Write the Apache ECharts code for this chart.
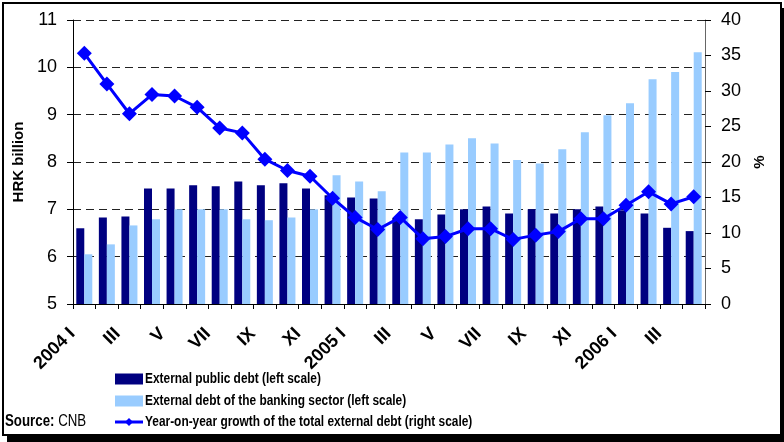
<!DOCTYPE html>
<html>
<head>
<meta charset="utf-8">
<script src="https://cdn.jsdelivr.net/npm/echarts@6/dist/echarts.min.js"></script>
<style>
  html, body { margin: 0; padding: 0; background: #fff; }
  #wrap { position: relative; width: 784px; height: 442px; overflow: hidden; }
  #frame { position: absolute; left: 2px; top: 2px; width: 776px; height: 430px;
           border: 2px solid #000; background: #fff; box-shadow: 5px 6px 0 #000; }
  #chart { position: absolute; left: 0; top: 0; width: 784px; height: 442px; }
</style>
</head>
<body>
<div id="wrap">
  <div id="frame"></div>
  <div id="chart"></div>
</div>
<script>
// Months, January 2004 to April 2006
const months = ['2004 I','II','III','IV','V','VI','VII','VIII','IX','X','XI','XII',
                '2005 I','II','III','IV','V','VI','VII','VIII','IX','X','XI','XII',
                '2006 I','II','III','IV'];

// HRK billion (left scale)
const publicDebt = [6.60, 6.83, 6.85, 7.44, 7.44, 7.51, 7.49, 7.59, 7.51, 7.55, 7.44, 7.30,
                    7.25, 7.23, 6.82, 6.79, 6.89, 7.00, 7.06, 6.91, 7.00, 6.91, 7.00, 7.06,
                    6.98, 6.91, 6.61, 6.54];
const bankingDebt = [6.05, 6.26, 6.66, 6.79, 7.00, 7.00, 7.00, 6.79, 6.77, 6.83, 7.00, 7.72,
                     7.59, 7.38, 8.20, 8.20, 8.37, 8.50, 8.39, 8.04, 7.97, 8.27, 8.63, 8.99,
                     9.24, 9.75, 9.90, 10.32];
// % (right scale)
const growth = [35.3, 31.0, 26.8, 29.5, 29.3, 27.7, 24.8, 24.1, 20.4, 18.8, 18.0, 14.9,
                12.2, 10.5, 12.2, 9.2, 9.5, 10.6, 10.6, 9.1, 9.7, 10.2, 12.0, 12.0,
                13.9, 15.8, 14.1, 15.1];

const seriesNames = ['External public debt (left scale)',
                     'External debt of the banking sector (left scale)',
                     'Year-on-year growth of the total external debt (right scale)'];
const colors = ['#000080', '#99CCFF', '#0000FF'];

const sans = '"Liberation Sans", Arial, sans-serif';

// Condensed legend block under the plot
function legendRow(i, y) {
  const items = [];
  if (i < 2) {
    items.push({ type: 'rect', shape: { x: 115, y: y - 5.5, width: 28, height: 11 },
                 style: { fill: colors[i] } });
  } else {
    items.push({ type: 'line', shape: { x1: 115, y1: y, x2: 143, y2: y },
                 style: { stroke: colors[i], lineWidth: 3 } });
    items.push({ type: 'polygon', shape: { points: [[129, y - 4], [133, y], [129, y + 4], [125, y]] },
                 style: { fill: colors[i] } });
  }
  items.push({ type: 'text', x: 145, y: y, scaleX: 0.85,
               style: { text: seriesNames[i], font: 'bold 14px ' + sans, fill: '#000',
                        verticalAlign: 'middle', align: 'left' } });
  return items;
}

const chart = echarts.init(document.getElementById('chart'), null, { renderer: 'canvas' });
chart.setOption({
  backgroundColor: 'transparent',
  animation: false,
  grid: { left: 73, right: 79, top: 20, bottom: 138 },
  graphic: [].concat(
    legendRow(0, 379), legendRow(1, 401), legendRow(2, 422),
    [{ type: 'text', x: 5, y: 422, scaleX: 0.83,
       style: { rich: {
           b: { fontFamily: sans, fontWeight: 'bold', fontSize: 16, fill: '#000' },
           n: { fontFamily: sans, fontSize: 16, fill: '#000' } },
         text: '{b|Source: }{n|CNB}', verticalAlign: 'middle' } }]
  ),
  xAxis: {
    type: 'category',
    data: months,
    boundaryGap: true,
    axisLine: { lineStyle: { color: '#000', width: 1 } },
    axisTick: { show: true, interval: 0, length: 5, lineStyle: { color: '#000' } },
    axisLabel: { interval: 1, rotate: 45, margin: 15, padding: [0, 17, 0, 0], color: '#000',
                 fontFamily: sans, fontWeight: 'bold', fontSize: 18 }
  },
  yAxis: [
    { type: 'value', min: 5, max: 11, interval: 1,
      name: 'HRK billion', nameLocation: 'middle', nameGap: 46, nameRotate: 90,
      nameTextStyle: { fontFamily: sans, fontWeight: 'bold', fontSize: 15, color: '#000' },
      axisLine: { show: true, lineStyle: { color: '#000' } },
      axisTick: { show: true, length: 6, inside: false, lineStyle: { color: '#000' } },
      axisLabel: { margin: 16, color: '#000', fontFamily: sans, fontSize: 18 },
      splitLine: { show: true, lineStyle: { color: '#222', type: [8, 5], width: 1 } } },
    { type: 'value', min: 0, max: 40, interval: 5, position: 'right',
      name: '%', nameLocation: 'middle', nameGap: 45, nameRotate: 90,
      nameTextStyle: { fontFamily: sans, fontWeight: 'bold', fontSize: 15, color: '#000' },
      axisLine: { show: true, lineStyle: { color: '#666' } },
      axisTick: { show: true, length: 6, lineStyle: { color: '#000' } },
      axisLabel: { margin: 16, color: '#000', fontFamily: sans, fontSize: 18 },
      splitLine: { show: false } }
  ],
  series: [
    { name: seriesNames[0], type: 'bar', yAxisIndex: 0, data: publicDebt,
      barWidth: 8, barGap: '0%', itemStyle: { color: colors[0] }, z: 2 },
    { name: seriesNames[1], type: 'bar', yAxisIndex: 0, data: bankingDebt,
      barWidth: 8, barGap: '0%', itemStyle: { color: colors[1] }, z: 2 },
    { name: seriesNames[2], type: 'line', yAxisIndex: 1, data: growth,
      symbol: 'diamond', symbolSize: 15,
      lineStyle: { color: colors[2], width: 3 },
      itemStyle: { color: colors[2] }, z: 5 }
  ]
});
</script>
</body>
</html>
